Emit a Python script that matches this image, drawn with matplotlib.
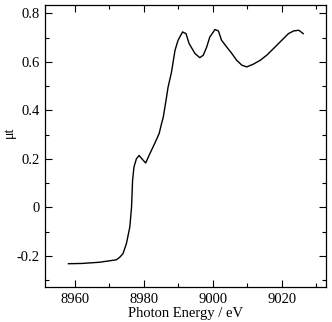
import matplotlib
matplotlib.use("Agg")
import matplotlib.pyplot as plt
from matplotlib.ticker import MultipleLocator

energy = [8958.1, 8962.0, 8967.1, 8972.0, 8973.0, 8973.9, 8974.9, 8975.9, 8976.4, 8976.7,
          8977.1, 8977.8, 8978.6, 8979.6, 8980.5, 8981.7, 8983.1, 8984.4, 8985.1, 8985.6,
          8986.4, 8987.0, 8988.0, 8989.0, 8989.9, 8991.2, 8992.2, 8993.1, 8994.8, 8996.2,
          8997.2, 8998.2, 8999.1, 9000.6, 9001.6, 9002.5, 9004.0, 9005.5, 9006.9, 9008.4,
          9009.8, 9011.7, 9013.7, 9015.6, 9017.6, 9019.5, 9021.9, 9023.4, 9024.9, 9026.2]
mu_t = [-0.232, -0.231, -0.226, -0.216, -0.205, -0.191, -0.150, -0.081, 0.001, 0.111,
        0.166, 0.200, 0.214, 0.197, 0.183, 0.221, 0.263, 0.304, 0.345, 0.372,
        0.441, 0.496, 0.558, 0.647, 0.689, 0.723, 0.716, 0.675, 0.634, 0.617,
        0.627, 0.661, 0.702, 0.733, 0.727, 0.689, 0.661, 0.634, 0.606, 0.586,
        0.579, 0.590, 0.606, 0.627, 0.655, 0.682, 0.716, 0.727, 0.730, 0.716]

plt.rcParams['font.family'] = ['Liberation Serif', 'DejaVu Serif']
fig = plt.figure(figsize=(3.32, 3.22), dpi=100)
ax = fig.add_axes([45/332, 1-287/322, 281/332, 282/322])
ax.plot(energy, mu_t, color='black', lw=1.0)
ax.set_xlim(8951.3, 9032.8)
ax.set_ylim(-0.328, 0.834)
ax.xaxis.set_major_locator(MultipleLocator(20))
ax.xaxis.set_minor_locator(MultipleLocator(10))
ax.yaxis.set_major_locator(MultipleLocator(0.2))
ax.yaxis.set_minor_locator(MultipleLocator(0.1))
ax.set_yticks([-0.2, 0, 0.2, 0.4, 0.6, 0.8])
ax.set_yticklabels(['-0.2', '0', '0.2', '0.4', '0.6', '0.8'])
ax.tick_params(which='both', direction='in', top=True, right=True, labelsize=10.5, width=0.8)
ax.tick_params(which='major', length=5, pad=4)
ax.tick_params(which='minor', length=3)
for s in ax.spines.values():
    s.set_linewidth(0.9)
ax.set_xlabel('Photon Energy / eV', fontsize=10.5, labelpad=1)
ax.set_ylabel('μt', fontsize=10)
ax.yaxis.set_label_coords(-0.105, 0.55)
fig.savefig('out.png', dpi=100)
